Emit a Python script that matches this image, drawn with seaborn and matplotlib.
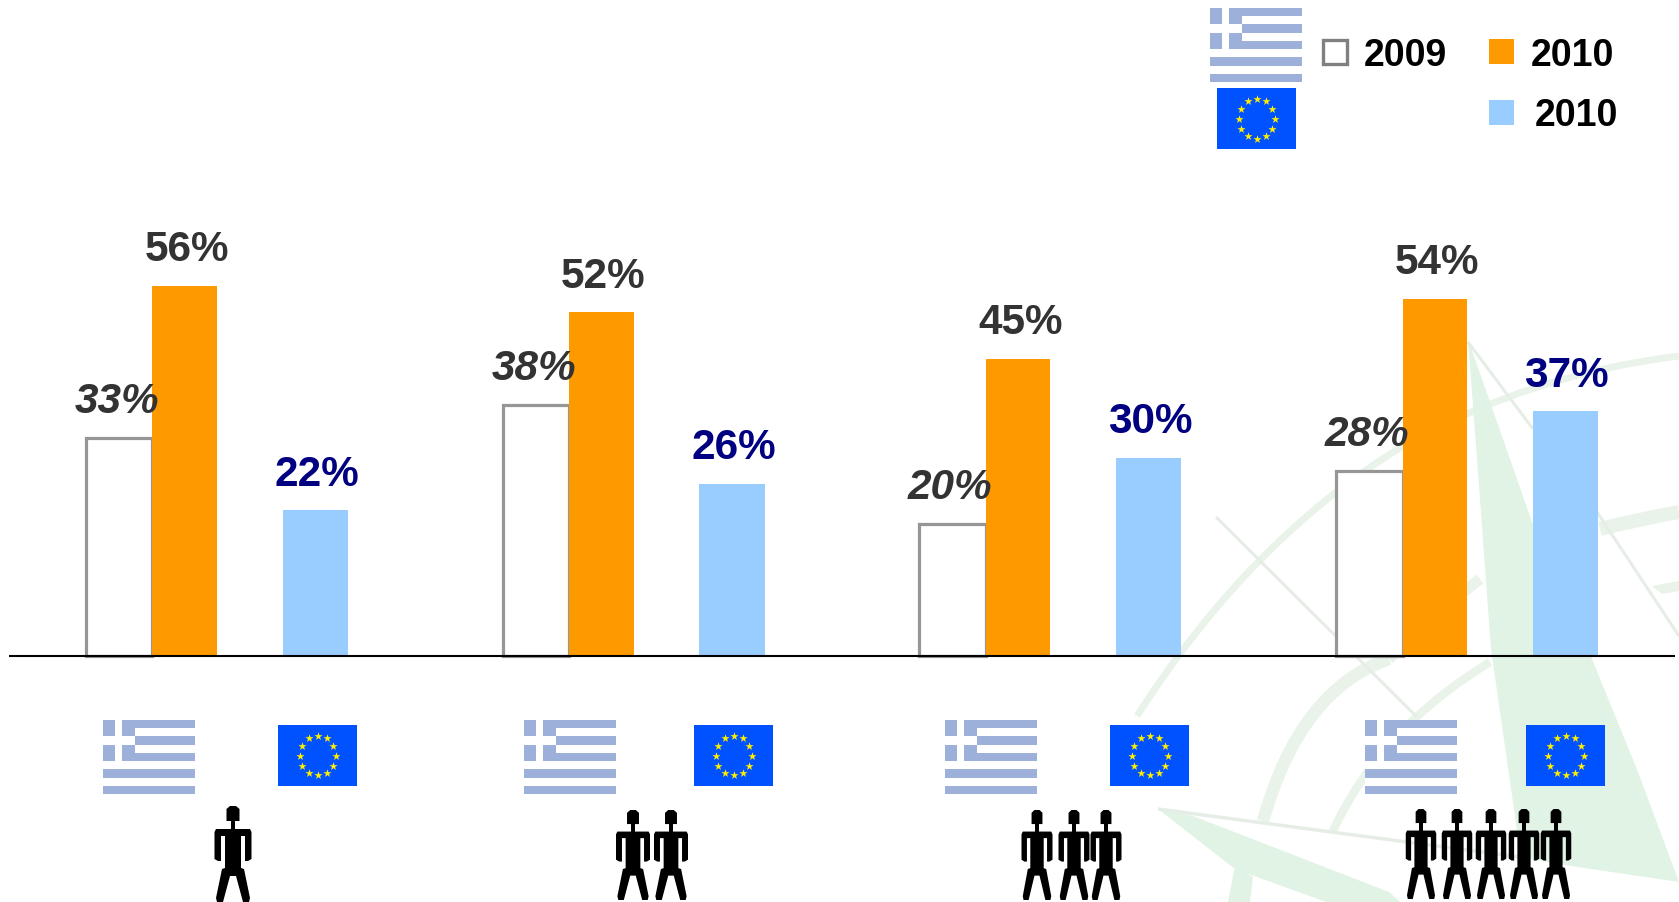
import numpy as np
import pandas as pd
import seaborn as sns
import matplotlib.pyplot as plt
from matplotlib.patches import Rectangle, Polygon, PathPatch
from matplotlib.path import Path

# values
groups = ['1 person', '2 persons', '3 persons', '5 persons']
gr_2009 = [33, 38, 20, 28]
gr_2010 = [56, 52, 45, 54]
eu_2010 = [22, 26, 30, 37]
series = ['GR 2009', 'GR 2010', 'gap', 'EU 2010']

W, H = 1679, 903
ORANGE = '#FF9900'
LIGHT = '#99CCFF'
EDGE = '#969696'
DARK = '#333333'
NAVY = '#000080'
WM = '#E0F3E4'
WM_ARC = '#E9F3E9'
WM_LINE = '#E6EDE6'

sns.set_style('white')
plt.rcParams['font.family'] = ['Liberation Sans', 'DejaVu Sans']

df = pd.DataFrame({
    'group': groups * 3,
    'value': gr_2009 + gr_2010 + eu_2010,
    'series': ['GR 2009'] * 4 + ['GR 2010'] * 4 + ['EU 2010'] * 4,
})

fig = plt.figure(figsize=(W / 100, H / 100), dpi=100)

# background layer in pixel coords: watermark, flags, people, legend
bg = fig.add_axes([0, 0, 1, 1], zorder=0)
bg.set_xlim(0, W)
bg.set_ylim(H, 0)
bg.axis('off')


def wm_poly(pts, color=WM):
    bg.add_patch(Polygon(pts, closed=True, fc=color, ec='none'))


def wm_curve(p0, p1, p2, lw, color=WM_ARC):
    path = Path([p0, p1, p2], [Path.MOVETO, Path.CURVE3, Path.CURVE3])
    bg.add_patch(PathPatch(path, fc='none', ec=color, lw=lw, capstyle='butt'))


def wm_line(a, b, lw=2.2, color=WM_LINE):
    bg.plot([a[0], b[0]], [a[1], b[1]], color=color, lw=lw, solid_capstyle='butt')


# compass watermark
wm_curve((1137, 717), (1250, 540), (1403, 447), 5)
wm_curve((1403, 447), (1530, 375), (1679, 357), 5)
wm_curve((1263, 822), (1300, 690), (1389, 660), 9)
wm_curve((1389, 660), (1440, 610), (1480, 580), 8)
wm_curve((1333, 832), (1380, 730), (1490, 663), 6)
wm_curve((1600, 530), (1640, 520), (1679, 513), 10)
wm_poly([(1652, 587), (1679, 582), (1679, 592), (1662, 595)], WM_ARC)
wm_line((1216, 518), (1417, 718))
wm_line((1468, 343), (1533, 430))
wm_line((1597, 513), (1679, 637))
wm_line((1158, 810), (1520, 858), 2.5)
wm_poly([(1468, 340), (1480, 500), (1491, 650), (1515, 817), (1520, 858), (1571, 867),
         (1679, 883), (1638, 773), (1592, 660), (1532, 523)])
wm_poly([(1158, 810), (1193, 817), (1389, 893), (1400, 903), (1326, 903), (1235, 870)])
wm_poly([(1235, 867), (1253, 878), (1250, 903), (1228, 903)])


def flag_gr(x, y, w=92, h=74):
    blue = '#9DB0D9'
    bg.add_patch(Rectangle((x, y), w, h, fc='white', ec='none'))
    sh = h / 9
    for i in range(0, 9, 2):
        bg.add_patch(Rectangle((x, y + i * sh), w, sh, fc=blue, ec='none'))
    bg.add_patch(Rectangle((x, y), 32, 5 * sh, fc=blue, ec='none'))
    bg.add_patch(Rectangle((x + 12, y), 7, 5 * sh, fc='white', ec='none'))
    bg.add_patch(Rectangle((x, y + 2 * sh), 32, sh, fc='white', ec='none'))


def flag_eu(x, y, w=79, h=61):
    bg.add_patch(Rectangle((x, y), w, h, fc='#0051FF', ec='none'))
    ang = np.deg2rad(np.arange(0, 360, 30))
    bg.scatter(x + w / 2 + 18 * np.sin(ang), y + h / 2 - 20 * np.cos(ang),
               marker='*', s=38, color='#FFEE00', linewidths=0, zorder=3)


def person(cx, top, height, width):
    ky = height / 96
    kx = width / 37
    parts = [
        [(-6.5, 3), (-3, 0), (3, 0), (6.5, 3), (6.5, 15), (-6.5, 15)],
        [(-2.2, 15), (2.2, 15), (2.2, 24), (-2.2, 24)],
        [(-17, 23), (17, 23), (18.5, 26), (18.5, 53), (15, 55), (12, 55), (12, 30), (8, 30), (8, 62),
         (11, 63), (17, 92), (16, 96), (10, 96), (3, 70), (-3, 70), (-10, 96), (-16, 96),
         (-17, 92), (-11, 63), (-8, 62), (-8, 30), (-12, 30), (-12, 55), (-15, 55), (-18.5, 53), (-18.5, 26)],
    ]
    for part in parts:
        bg.add_patch(Polygon([(cx + kx * px, top + ky * py) for px, py in part], closed=True,
                             fc='black', ec='none', zorder=4))


for x in [103, 524, 945, 1365]:
    flag_gr(x, 721)
for x in [278, 694, 1110, 1526]:
    flag_eu(x, 726)

person(233, 807, 96, 37)
for cx in [633, 671]:
    person(cx, 811, 90, 34)
for cx in [1037, 1074, 1106]:
    person(cx, 811, 90, 31)
for cx in [1421, 1457, 1491, 1524, 1556]:
    person(cx, 810, 90, 30.5)

# legend
flag_gr(1210, 9)
flag_eu(1217, 89)
bg.add_patch(Rectangle((1323, 41), 24, 24, fc='white', ec='#808080', lw=2.4))
bg.add_patch(Rectangle((1489, 40), 25, 25, fc=ORANGE, ec='none'))
bg.add_patch(Rectangle((1489, 101), 25, 25, fc=LIGHT, ec='none'))
for tx, ty, s in [(1364, 56, '2009'), (1531, 56, '2010'), (1535, 116, '2010')]:
    bg.text(tx, ty, s, fontsize=27, fontweight='bold', color='black', va='center', ha='left')

# bars, on a transparent axes that fills the figure
ax = fig.add_axes([0, 0, 1, 1], zorder=1)
ax.patch.set_alpha(0)
sns.barplot(data=df, x='group', y='value', hue='series', hue_order=series, order=groups,
            palette={'GR 2009': 'white', 'GR 2010': ORANGE, 'gap': 'white', 'EU 2010': LIGHT},
            width=0.629, gap=0, saturation=1, legend=False, ax=ax, errorbar=None)

px_group = 416.7
px_unit = 6.6
ax.set_xlim(-217 / px_group, (W - 217) / px_group)
ax.set_ylim(-(H - 656.5) / px_unit, 656.5 / px_unit)
ax.axis('off')

conts = [c for c in ax.containers if len(c) > 0]
nudge = 1 / px_group
for bar in conts[0]:
    bar.set_width(bar.get_width() + nudge)
    bar.set_edgecolor(EDGE)
    bar.set_linewidth(2.3)
    bar.set_joinstyle('miter')
for bar in conts[1]:
    bar.set_x(bar.get_x() + nudge)
    bar.set_width(bar.get_width() - nudge)
for cont in conts[1:]:
    for bar in cont:
        bar.set_linewidth(0)

styles = [(dict(color=DARK, fontstyle='italic'), -1.6),
          (dict(color=DARK), 1.5),
          (dict(color=NAVY), 1.0)]
for cont, (st, dx) in zip(conts, styles):
    labels = ax.bar_label(cont, fmt='%g%%', padding=12, fontsize=30.4, fontweight='bold', **st)
    for lab in labels:
        lab.xyann = (lab.xyann[0] + dx, lab.xyann[1])

# baseline
top = fig.add_axes([0, 0, 1, 1], zorder=2)
top.set_xlim(0, W)
top.set_ylim(H, 0)
top.axis('off')
top.plot([9, 1675], [656.5, 656.5], color='black', lw=1.5, solid_capstyle='butt')

fig.savefig('out.png', dpi=100)
